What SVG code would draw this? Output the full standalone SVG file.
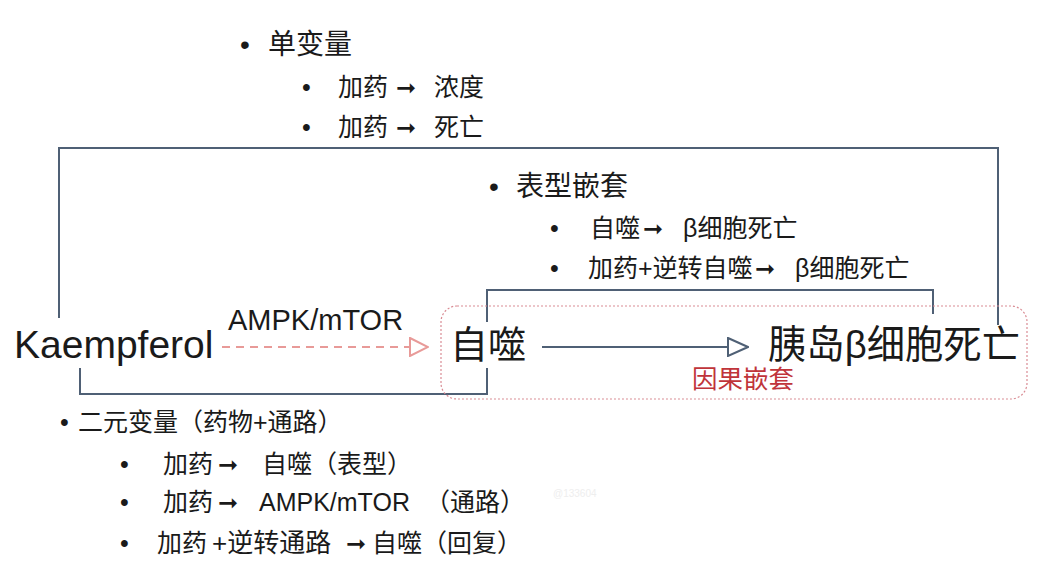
<svg xmlns="http://www.w3.org/2000/svg" width="1047" height="575" viewBox="0 0 1047 575">
<defs>
<style>
text{font-family:"Liberation Sans","Noto Sans CJK SC",sans-serif;fill:#1a1a1a}
.big{font-size:39px}
.h{font-size:28px}
.s{font-size:25px}
.ar{font-family:"DejaVu Sans",sans-serif;font-weight:bold;font-size:24px}
.red{fill:#c0343a}
.ln{fill:none;stroke:#4f6075;stroke-width:2}
</style>
<marker id="hpink" viewBox="0 0 20 20" refX="19" refY="10" markerWidth="20" markerHeight="20" markerUnits="userSpaceOnUse" orient="auto"><path d="M1,1 L19,10 L1,19 Z" fill="#fff" stroke="#e89a98" stroke-width="2"/></marker>
<marker id="hblue" viewBox="0 0 22 20" refX="21" refY="10" markerWidth="22" markerHeight="20" markerUnits="userSpaceOnUse" orient="auto"><path d="M1,1 L21,10 L1,19 Z" fill="#fff" stroke="#4f6075" stroke-width="2"/></marker>
</defs>
<rect width="1047" height="575" fill="#fff"/>
<g id="connectors">
<path class="ln" d="M59,318 V148 H998 V325"/>
<path class="ln" d="M487,322 V290 H933 V314"/>
<path class="ln" d="M80,368 V394 H487 V368"/>
<line x1="222" y1="347" x2="428" y2="347" stroke="#e89a98" stroke-width="2" stroke-dasharray="8,6" marker-end="url(#hpink)"/>
<line x1="542" y1="347" x2="748" y2="347" stroke="#4f6075" stroke-width="2" marker-end="url(#hblue)"/>
</g>
<g id="causal-nesting">
<rect x="441" y="306" width="586" height="93" rx="16" fill="none" stroke="#d98c94" stroke-width="1.2" stroke-dasharray="2,2"/>
<text class="red" font-size="25.5" x="692" y="388">因果嵌套</text>
</g>
<g id="kaempferol"><text class="big" x="14" y="358">Kaempferol</text></g>
<g id="pathway-label"><text font-size="29" x="228" y="330">AMPK/mTOR</text></g>
<g id="autophagy"><text font-size="38" x="450" y="358">自噬</text></g>
<g id="beta-cell-death"><text class="big" x="768" y="358" textLength="252" lengthAdjust="spacingAndGlyphs">胰岛β细胞死亡</text></g>
<g id="list-univariate">
<text class="h" x="240" y="54">•</text><text class="h" x="268" y="54">单变量</text>
<text class="s" x="302" y="96">•</text><text class="s" x="338" y="96">加药<tspan class="ar" x="396">➞</tspan><tspan x="434">浓度</tspan></text>
<text class="s" x="302" y="136">•</text><text class="s" x="338" y="136">加药<tspan class="ar" x="396">➞</tspan><tspan x="434">死亡</tspan></text>
</g>
<g id="list-phenotype">
<text class="h" x="489" y="196">•</text><text class="h" x="516" y="196">表型嵌套</text>
<text class="s" x="550" y="237">•</text><text class="s" x="590" y="237">自噬<tspan class="ar" x="643">➞</tspan><tspan x="683">β细胞死亡</tspan></text>
<text class="s" x="550" y="277">•</text><text class="s" x="588" y="277">加药+逆转自噬<tspan class="ar" x="755">➞</tspan><tspan x="795">β细胞死亡</tspan></text>
</g>
<g id="list-bivariate">
<text class="s" x="60" y="431">•</text><text class="s" x="78" y="431">二元变量（药物+通路）</text>
<text class="s" x="120" y="473">•</text><text class="s" x="163" y="473">加药<tspan class="ar" x="218">➞</tspan><tspan x="262">自噬（表型）</tspan></text>
<text class="s" x="120" y="511">•</text><text class="s" x="163" y="511">加药<tspan class="ar" x="218">➞</tspan><tspan x="259">AMPK/mTOR</tspan><tspan x="425">（通路）</tspan></text>
<text class="s" x="120" y="552">•</text><text class="s" x="157" y="552">加药<tspan x="212" font-size="26">+逆转通路</tspan><tspan class="ar" x="346">➞</tspan><tspan x="372">自噬（回复）</tspan></text>
</g>
<text x="553" y="497" font-size="10" style="fill:#eeeeee">@133604</text>
</svg>
